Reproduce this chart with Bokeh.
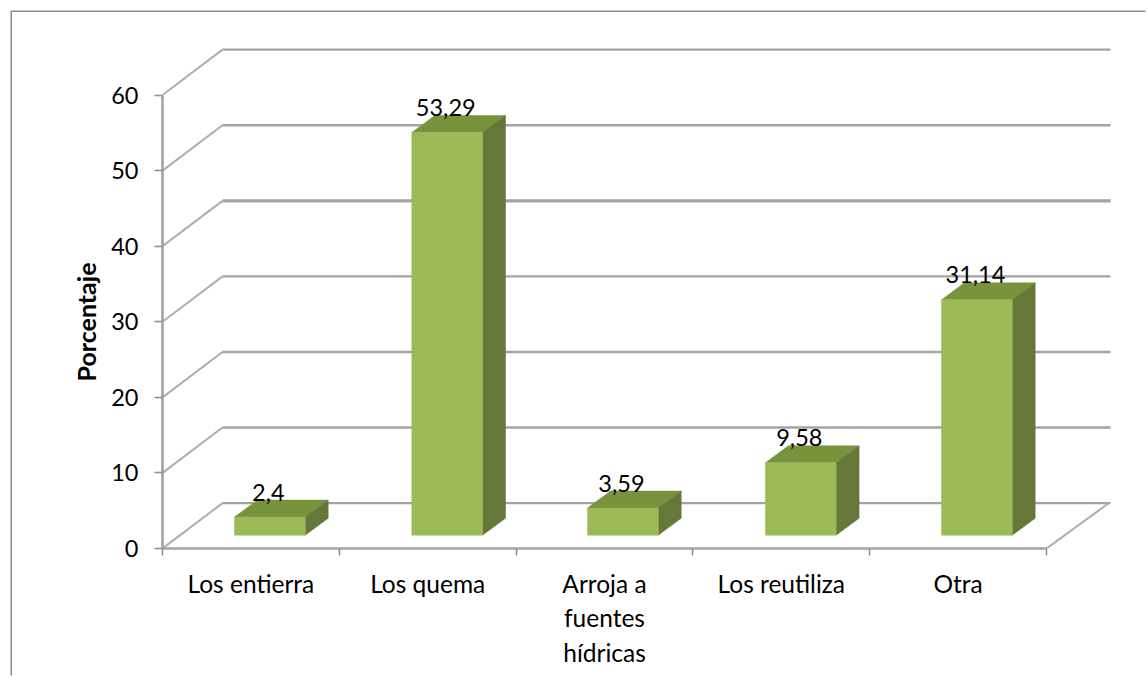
from bokeh.plotting import figure
from bokeh.models import LinearAxis, FixedTicker, Range1d, Title
from bokeh.core.properties import value
from bokeh.embed import file_html
from bokeh.resources import INLINE

categories = ["Los entierra", "Los quema", "Arroja a\nfuentes\nhídricas", "Los reutiliza", "Otra"]
values = [2.4, 53.29, 3.59, 9.58, 31.14]
value_labels = ["2,4", "53,29", "3,59", "9,58", "31,14"]
y_ticks = [0, 10, 20, 30, 40, 50, 60]

FONT = "Lato"
GREY = "#a3a3a3"
FRONT = "#9bbb59"
TOP = "#77933c"
SIDE = "#66773a"

X_PX = 176.8
Y_PX = 7.558
FRAME_W = 985
FRAME_H = 536
WALL_DX = 60 / X_PX
WALL_DY = 6.0
WALL_END = 948 / X_PX
BAR_LEFT = [0.407, 1.41, 2.404, 3.41, 4.406]
BAR_W = 0.4
BAR_BASE = 1.76
DEPTH_DX = 23 / X_PX
DEPTH_DY = 2.25

p = figure(width=1135, height=665, output_backend="svg", toolbar_location=None,
           x_range=Range1d(0, FRAME_W / X_PX), y_range=Range1d(0, FRAME_H / Y_PX),
           x_axis_type=None, y_axis_type=None,
           min_border_left=150, min_border_right=0, min_border_top=0, min_border_bottom=129)
p.grid.visible = False
p.outline_line_color = None
p.background_fill_color = "white"
p.margin = (12, 0, 0, 12)
p.styles = {"outline": "none", "box-shadow": "-1.5px -1.5px 0 0 #8c8c8c"}

# walls
for t in y_ticks:
    width = 3.4 if t == 40 else 2.4
    p.line([WALL_DX, WALL_END], [t + WALL_DY, t + WALL_DY], line_color=GREY, line_width=width)
    p.line([0, WALL_DX], [t, t + WALL_DY], line_color="#adadad", line_width=2)
p.line([5, WALL_END - 0.01], [0, WALL_DY], line_color="#adadad", line_width=2)

# bars
for left, v in zip(BAR_LEFT, values):
    right = left + BAR_W
    top = BAR_BASE + v
    p.patch([left, right, right + DEPTH_DX, left + DEPTH_DX],
            [top, top, top + DEPTH_DY, top + DEPTH_DY], fill_color=TOP, line_color=TOP, line_width=0.5)
    p.patch([right, right + DEPTH_DX, right + DEPTH_DX, right],
            [BAR_BASE, BAR_BASE + DEPTH_DY, top + DEPTH_DY, top], fill_color=SIDE, line_color=SIDE, line_width=0.5)
    p.quad(left=[left], right=[right], bottom=[BAR_BASE], top=[top], fill_color=FRONT, line_color=FRONT, line_width=0.5)

p.text(x=[l + BAR_W / 2 - 0.008 for l in BAR_LEFT],
       y=[BAR_BASE + v + DEPTH_DY for v in values],
       text=value_labels, text_font=value(FONT), text_font_size="23.5px", text_color="black",
       text_align="center", text_baseline="alphabetic", y_offset=-8)

# axes
ya = LinearAxis(ticker=FixedTicker(ticks=y_ticks), bounds=(0, 60),
                major_label_text_font=FONT, major_label_text_font_size="23.5px", major_label_text_color="black",
                major_label_standoff=16, axis_line_color=GREY, axis_line_width=2.6,
                major_tick_line_color="#8c8c8c", major_tick_line_width=1.5,
                major_tick_in=0, major_tick_out=8, minor_tick_out=0, minor_tick_in=0, minor_tick_line_color=None)
p.add_layout(ya, "left")
p.add_layout(Title(text="Porcentaje", align="left", offset=167, standoff=15, text_font=FONT, text_font_size="25px",
                   text_font_style="bold", text_color="black"), "left")

centers = [i + 0.5 for i in range(len(categories))]
xa = LinearAxis(ticker=FixedTicker(ticks=centers, minor_ticks=list(range(len(categories) + 1))), bounds=(0, 5),
                major_label_overrides=dict(zip(centers, categories)),
                major_label_text_font=FONT, major_label_text_font_size="24.5px", major_label_text_color="black",
                major_label_standoff=13, axis_line_color=GREY, axis_line_width=2.6,
                major_tick_line_color=None, major_tick_in=0, major_tick_out=0,
                minor_tick_line_color="#8c8c8c", minor_tick_line_width=1.5, minor_tick_in=0, minor_tick_out=7)
p.add_layout(xa, "below")

open("out.html", "w").write(file_html(p, INLINE))
